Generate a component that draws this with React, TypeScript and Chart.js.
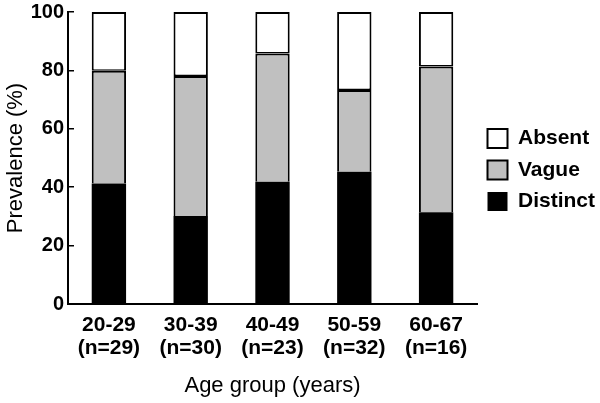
import React, { useEffect, useRef } from 'react';
import { Chart, registerables } from 'chart.js';

Chart.register(...registerables);

const categories: string[][] = [
  ['20-29', '(n=29)'],
  ['30-39', '(n=30)'],
  ['40-49', '(n=23)'],
  ['50-59', '(n=32)'],
  ['60-67', '(n=16)'],
];
const distinct = [41.3, 30.1, 41.9, 45.3, 31.4];
const vague = [38.6, 48.0, 43.9, 28.0, 49.9];
const absent = [20.1, 21.9, 14.2, 26.7, 18.7];
const yTicks = [0, 20, 40, 60, 80, 100];

const FONT = "'Liberation Sans', Arial, Helvetica, sans-serif";

export default function App() {
  const ref = useRef<HTMLCanvasElement | null>(null);

  useEffect(() => {
    if (!ref.current) return;
    Chart.defaults.font.family = FONT;
    const chart = new Chart(ref.current, {
      type: 'bar',
      data: {
        labels: categories,
        datasets: [
          {
            label: 'Distinct',
            data: distinct,
            backgroundColor: '#000000',
            borderWidth: 0,
            barPercentage: 0.42,
            categoryPercentage: 1,
          },
          {
            label: 'Vague',
            data: vague,
            backgroundColor: '#c0c0c0',
            borderColor: '#000000',
            borderWidth: { top: 2, left: 2, right: 2, bottom: 0 },
            borderSkipped: false,
            barPercentage: 0.42,
            categoryPercentage: 1,
          },
          {
            label: 'Absent',
            data: absent,
            backgroundColor: '#ffffff',
            borderColor: '#000000',
            borderWidth: { top: 2, left: 2, right: 2, bottom: 1.5 },
            borderSkipped: false,
            barPercentage: 0.42,
            categoryPercentage: 1,
          },
        ],
      },
      options: {
        responsive: false,
        animation: false,
        devicePixelRatio: 1,
        layout: { padding: { top: 12, left: 0, right: 0, bottom: 0 } },
        plugins: {
          tooltip: { enabled: false },
          legend: {
            position: 'right',
            fullSize: false,
            reverse: true,
            maxWidth: 123,
            title: {
              display: true,
              text: ' ',
              font: { size: 20, lineHeight: 1 },
              padding: { top: 2, bottom: 2 },
            },
            labels: {
              boxWidth: 20,
              boxHeight: 19,
              padding: 10.5,
              color: '#000000',
              font: { size: 21, weight: 'bold', family: FONT },
              generateLabels: (c: any) => {
                const items = Chart.defaults.plugins.legend.labels.generateLabels(c);
                return items.map((it: any) => ({
                  ...it,
                  lineWidth: it.text === 'Distinct' ? 0 : 2,
                  strokeStyle: '#000000',
                }));
              },
            },
          },
        },
        scales: {
          x: {
            stacked: true,
            grid: { display: false },
            border: { display: true, color: '#000000', width: 2 },
            ticks: {
              color: '#000000',
              font: { size: 21, weight: 'bold', lineHeight: 1.12 },
              padding: 1,
              maxRotation: 0,
              autoSkip: false,
            },
            title: {
              display: true,
              text: 'Age group (years)',
              color: '#000000',
              font: { size: 22, lineHeight: 1.2 },
              padding: { top: 0, bottom: 4 },
            },
            afterFit: (s: any) => {
              s.height = 99;
            },
          },
          y: {
            stacked: true,
            min: 0,
            max: 100,
            afterBuildTicks: (s: any) => {
              s.ticks = yTicks.map((v) => ({ value: v }));
            },
            ticks: {
              color: '#000000',
              font: { size: 20, weight: 'bold', lineHeight: 0.8 },
              padding: 4,
            },
            grid: {
              drawOnChartArea: true,
              drawTicks: false,
              color: '#000000',
              lineWidth: 1.5,
            },
            border: { display: true, color: '#000000', width: 2, dash: [5, 2000] },
            title: {
              display: true,
              text: 'Prevalence (%)',
              color: '#000000',
              font: { size: 22, lineHeight: 1.2 },
              padding: { top: 3, bottom: 0 },
            },
            afterFit: (s: any) => {
              s.width = 68;
            },
          },
        },
      },
    } as any);
    return () => chart.destroy();
  }, []);

  return (
    <div style={{ position: 'absolute', left: 0, top: 0, width: 600, height: 403, background: '#fff' }}>
      <canvas ref={ref} width={600} height={403} style={{ display: 'block' }} />
    </div>
  );
}
